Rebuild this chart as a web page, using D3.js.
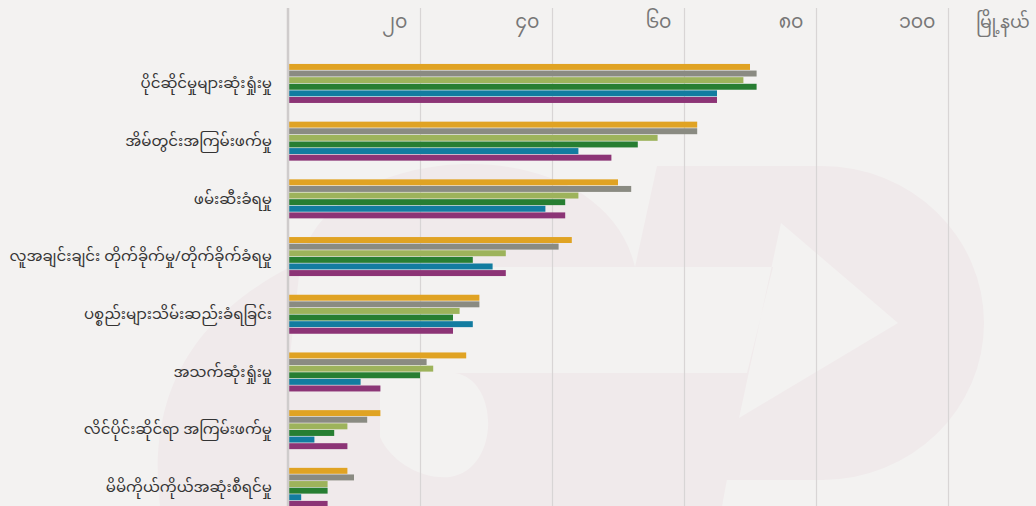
<!DOCTYPE html>
<html lang="my">

<head>
	<meta charset="UTF-8">
	<script src="https://d3js.org/d3.v7.min.js"></script>
	<title>Myanmar chart</title>
	<style>
		body {
			margin: 0;
			background: #f3f2f1;
			overflow: hidden;
		}

		text {
			font-family: "Noto Sans Myanmar", "Padauk", "Myanmar Text", "Noto Sans", sans-serif;
		}
	</style>
</head>

<body>
	<script>
		// categories (top to bottom)
		const categories = [
			"ပိုင်ဆိုင်မှုများဆုံးရှုံးမှု",
			"အိမ်တွင်းအကြမ်းဖက်မှု",
			"ဖမ်းဆီးခံရမှု",
			"လူအချင်းချင်း တိုက်ခိုက်မှု/တိုက်ခိုက်ခံရမှု",
			"ပစ္စည်းများသိမ်းဆည်းခံရခြင်း",
			"အသက်ဆုံးရှုံးမှု",
			"လိင်ပိုင်းဆိုင်ရာ အကြမ်းဖက်မှု",
			"မိမိကိုယ်ကိုယ်အဆုံးစီရင်မှု"
		]
		const seriesNames = ["s1", "s2", "s3", "s4", "s5", "s6"]
		const seriesColors = ["#e0a323", "#8a8b82", "#9db35b", "#277e32", "#127ca0", "#8c3476"]
		// one list per series, in category order
		const s1 = [70, 62, 50, 43, 29, 27, 14, 9]
		const s2 = [71, 62, 52, 41, 29, 21, 12, 10]
		const s3 = [69, 56, 44, 33, 26, 22, 9, 6]
		const s4 = [71, 53, 42, 28, 25, 20, 7, 6]
		const s5 = [65, 44, 39, 31, 28, 11, 4, 2]
		const s6 = [65, 49, 42, 33, 25, 14, 9, 6]
		const seriesValues = [s1, s2, s3, s4, s5, s6]
		const tickValues = [20, 40, 60, 80, 100]
		const tickLabels = ["၂၀", "၄၀", "၆၀", "၈၀", "၁၀၀"]
		const axisTitle = "မြို့နယ်"

		const W = 1036, H = 506

		const svg = d3.select("body").append("svg")
			.attr("width", W)
			.attr("height", H)

		svg.append("rect").attr("width", W).attr("height", H).attr("fill", "#f3f2f1")

		/*---------------- faint logo watermark ----------------*/
		const wm = svg.append("g").attr("fill", "#f0eaeb")
		// big "D" with arrow cut out
		wm.append("path")
			.attr("fill-rule", "evenodd")
			.attr("d", "M657,166 H822 A162,157 0 0 1 822,480 H725 L722,506 H560 L580,373 H747 L773,267 H635 Z" +
				" M781,223 L898,323 L739,418 Z")
		// top of the "S"
		wm.append("path")
			.attr("d", "M300,267 C320,140 600,120 635,267 Z")
		// left side and bottom of the "S"
		wm.append("path")
			.attr("fill-rule", "evenodd")
			.attr("d", "M160,506 C150,420 170,330 290,267 L300,267 L288,373 H747 L722,506 Z" +
				" M380,373 H455 C500,380 500,470 450,477 C420,480 390,460 380,437 Z")

		/*---------------- scales ----------------*/
		const x = d3.scaleLinear()
			.domain([0, 100])
			.range([288, 948])

		const y = d3.scaleBand()
			.domain(categories)
			.range([54.6, 516.2])
			.paddingInner(0.324)
			.paddingOuter(0.162)

		const yInner = d3.scaleBand()
			.domain(seriesNames)
			.range([0, y.bandwidth()])
			.paddingInner(0.1)

		/*---------------- grid + ticks ----------------*/
		const xAxis = d3.axisTop(x)
			.tickValues(tickValues)
			.tickSize(-(H - 8))
			.tickFormat((d, i) => tickLabels[i])

		const gx = svg.append("g")
			.attr("transform", "translate(0,8)")
			.call(xAxis)
		gx.select(".domain").remove()
		gx.selectAll(".tick line")
			.attr("stroke", "#d8d5d5")
			.attr("stroke-width", 1.2)
		gx.selectAll(".tick text")
			.attr("text-anchor", "end")
			.attr("x", -13)
			.attr("y", 14)
			.attr("dy", "0.32em")
			.attr("fill", "#777")
			.attr("font-size", 19)

		svg.append("text")
			.attr("x", 976)
			.attr("y", 22)
			.attr("dy", "0.32em")
			.attr("fill", "#777")
			.attr("font-size", 17.5)
			.text(axisTitle)

		/*---------------- bars ----------------*/
		const groups = svg.selectAll(".grp")
			.data(categories)
			.join("g")
			.attr("class", "grp")
			.attr("transform", d => `translate(0,${y(d)})`)

		groups.selectAll("rect")
			.data((d, ci) => seriesNames.map((s, si) => ({ s: s, si: si, v: seriesValues[si][ci] })))
			.join("rect")
			.attr("x", x(0))
			.attr("y", d => yInner(d.s))
			.attr("height", yInner.bandwidth())
			.attr("width", d => x(d.v) - x(0))
			.attr("fill", d => seriesColors[d.si])

		// zero line
		svg.append("line")
			.attr("x1", x(0)).attr("x2", x(0))
			.attr("y1", 8).attr("y2", H)
			.attr("stroke", "#cfcccc")
			.attr("stroke-width", 2.5)

		/*---------------- category labels ----------------*/
		svg.selectAll(".cat")
			.data(categories)
			.join("text")
			.attr("class", "cat")
			.attr("x", 272)
			.attr("y", d => y(d) + y.bandwidth() / 2)
			.attr("dy", "0.32em")
			.attr("text-anchor", "end")
			.attr("fill", "#333")
			.attr("font-size", 15)
			.text(d => d)
	</script>
</body>

</html>
